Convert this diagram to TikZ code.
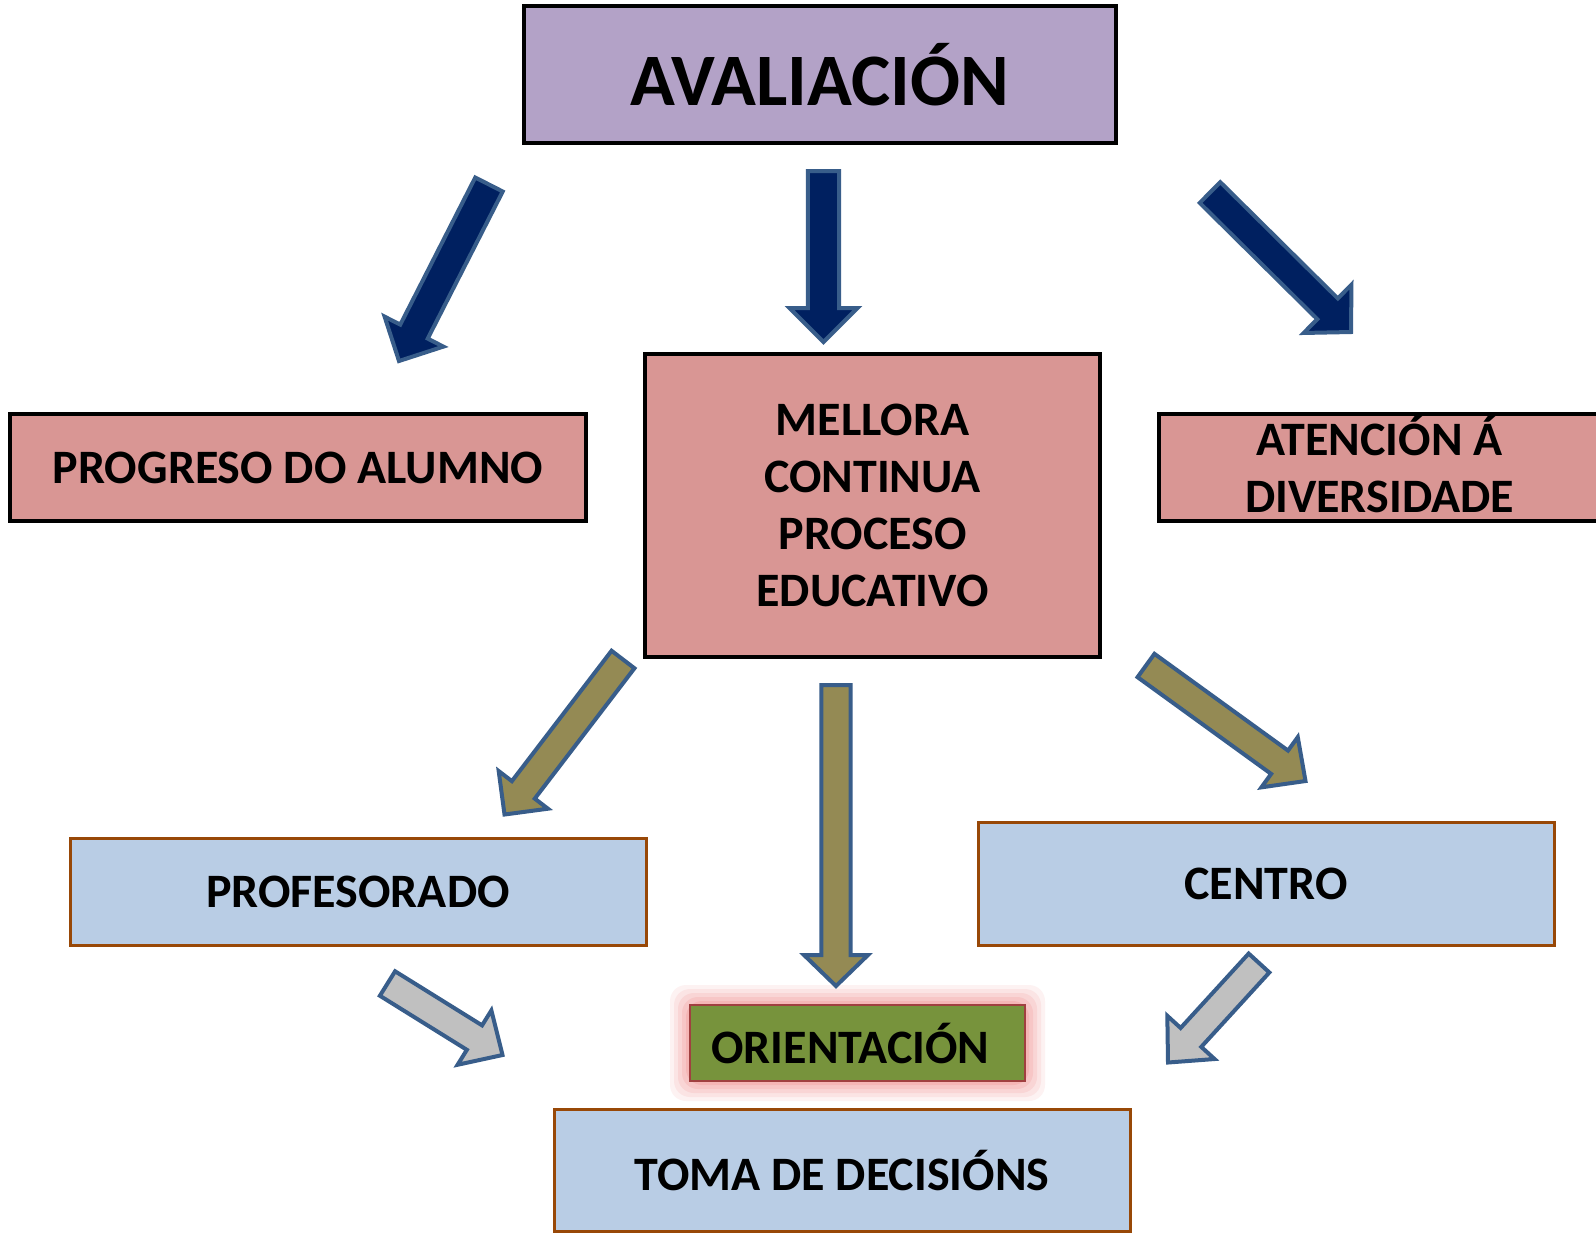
\documentclass[tikz,border=0pt]{standalone}
\usepackage{fontspec}
\setmainfont{Carlito}
\usetikzlibrary{calc}
\definecolor{purp}{HTML}{B3A2C7}
\definecolor{pinkb}{HTML}{D99694}
\definecolor{blueb}{HTML}{B9CDE5}
\definecolor{greenb}{HTML}{77933C}
\definecolor{brownb}{HTML}{984807}
\definecolor{navy}{HTML}{002060}
\definecolor{edgeb}{HTML}{385D8A}
\definecolor{olive}{HTML}{948A54}
\definecolor{greyb}{HTML}{C0C0C0}
\definecolor{glowc}{HTML}{F29A9A}
\definecolor{orbord}{HTML}{A04040}
\tikzset{
  txt/.style={font=\bfseries\fontsize{24}{28.5}\selectfont, align=center, text=black},
  blackbox/.style={draw=black, line width=1.8pt, txt},
  brownbox/.style={draw=brownb, line width=1.5pt, fill=blueb, txt},
  barrow/.style={draw=edgeb, line width=2pt, line join=miter},
}
\newcommand\blockarrow[6]{%
  \coordinate (T) at #2; \coordinate (P) at #3;
  \coordinate (H) at ($(P)!#6!(T)$);
  \draw[barrow, fill=#1] ($(T)!#4!90:(P)$) -- ($(H)!#4!90:(P)$) -- ($(H)!#5!90:(P)$) -- (P)
    -- ($(H)!#5!-90:(P)$) -- ($(H)!#4!-90:(P)$) -- ($(T)!#4!-90:(P)$) -- cycle;}
\begin{document}
\begin{tikzpicture}[x=0.5pt, y=-0.5pt]
\useasboundingbox (0,0) rectangle (1596,1239);
\fill[white] (0,0) rectangle (1596,1239);

% boxes
\node[blackbox, fill=purp, minimum width=296pt, minimum height=68.5pt,
      font=\bfseries\fontsize{37}{44}\selectfont] (aval) at (820,74.5) {AVALIACIÓN};
\node[blackbox, fill=pinkb, minimum width=288pt, minimum height=53.5pt] (prog) at (298,467.5) {PROGRESO DO ALUMNO};
\node[blackbox, fill=pinkb, minimum width=227.5pt, minimum height=151.5pt] (mell) at (872.5,505.5)
  {MELLORA\\CONTINUA\\PROCESO\\EDUCATIVO};
\node[blackbox, fill=pinkb, minimum width=225.5pt, minimum height=53.5pt] (aten) at (1384.5,467.5) {};
\node[txt, inner sep=0pt] (atentxt) at ($(aten.center)+(-5,-4)$) {ATENCIÓN Á\\DIVERSIDADE};
\node[brownbox, minimum width=288pt, minimum height=53.5pt] (prof) at (358,891.5) {PROFESORADO};
\node[brownbox, minimum width=288pt, minimum height=61.5pt] (cent) at (1266,883.5) {CENTRO};
\node[brownbox, minimum width=288pt, minimum height=61pt] (toma) at (842,1170) {TOMA DE DECISIÓNS};

% glow of orientacion
\foreach \d/\o in {20/0.12, 16/0.15, 12/0.2, 8/0.25, 4/0.35}{
  \fill[glowc, opacity=\o, rounded corners=8pt] ($(690,1081)+(-\d,\d)$) rectangle ($(1025,1005)+(\d,-\d)$);
}
\node[draw=orbord, line width=0.8pt, fill=greenb, minimum width=167.5pt, minimum height=38pt, txt]
  (orie) at (857.5,1043) {\hspace*{-7pt}ORIENTACIÓN};

% dark arrows
\blockarrow{navy}{(489,184.5)}{(399,361)}{7.7pt}{16.5pt}{16.5pt}
\blockarrow{navy}{(823.5,171)}{(823.5,342)}{7.8pt}{17pt}{17pt}
\blockarrow{navy}{(1210,192.5)}{(1351,332)}{7.3pt}{17pt}{16.5pt}
% olive arrows
\blockarrow{olive}{(623,659.5)}{(504.5,814.5)}{7.2pt}{15.5pt}{15.5pt}
\blockarrow{olive}{(836,685)}{(836,986)}{7.3pt}{16pt}{15.5pt}
\blockarrow{olive}{(1146,665.5)}{(1305.5,781)}{7.2pt}{15.5pt}{16pt}
% grey arrows
\blockarrow{greyb}{(387.5,983.5)}{(502.5,1055)}{7.2pt}{16pt}{16.5pt}
\blockarrow{greyb}{(1259,963)}{(1168,1062.5)}{7pt}{16pt}{17pt}
\end{tikzpicture}
\end{document}
